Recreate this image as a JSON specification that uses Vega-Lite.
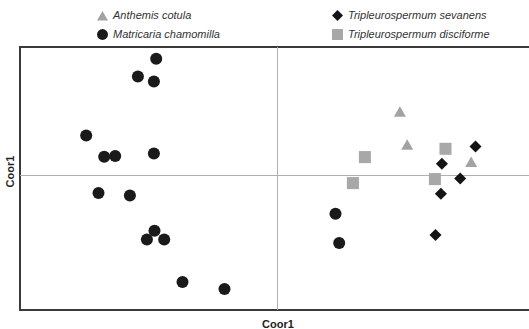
{
  "$schema": "https://vega.github.io/schema/vega-lite/v6.json",
  "autosize": "none",
  "padding": {"left": 20, "top": 47, "right": 0, "bottom": 19},
  "width": 515,
  "height": 263,
  "background": "white",
  "config": {
    "view": {"stroke": "#3a3a3a", "strokeWidth": 2},
    "font": "Liberation Sans"
  },
  "data": {
    "values": [
      {"species": "Matricaria chamomilla", "x": -121.3, "y": 116.7},
      {"species": "Matricaria chamomilla", "x": -139.6, "y": 99},
      {"species": "Matricaria chamomilla", "x": -123.6, "y": 94},
      {"species": "Matricaria chamomilla", "x": -191.3, "y": 40},
      {"species": "Matricaria chamomilla", "x": -173.3, "y": 18.7},
      {"species": "Matricaria chamomilla", "x": -162.3, "y": 19.4},
      {"species": "Matricaria chamomilla", "x": -123.6, "y": 22},
      {"species": "Matricaria chamomilla", "x": -179, "y": -17.6},
      {"species": "Matricaria chamomilla", "x": -147.6, "y": -20},
      {"species": "Matricaria chamomilla", "x": -123, "y": -55.3},
      {"species": "Matricaria chamomilla", "x": -130.6, "y": -64},
      {"species": "Matricaria chamomilla", "x": -113.3, "y": -64},
      {"species": "Matricaria chamomilla", "x": -95, "y": -106.6},
      {"species": "Matricaria chamomilla", "x": -53, "y": -113.6},
      {"species": "Matricaria chamomilla", "x": 58, "y": -38.3},
      {"species": "Matricaria chamomilla", "x": 61.7, "y": -67.6},
      {"species": "Anthemis cotula", "x": 122.4, "y": 64},
      {"species": "Anthemis cotula", "x": 129.7, "y": 31},
      {"species": "Anthemis cotula", "x": 193.7, "y": 13.7},
      {"species": "Tripleurospermum disciforme", "x": 87.4, "y": 18.4},
      {"species": "Tripleurospermum disciforme", "x": 75.4, "y": -7.6},
      {"species": "Tripleurospermum disciforme", "x": 168, "y": 26.7},
      {"species": "Tripleurospermum disciforme", "x": 157.4, "y": -3.6},
      {"species": "Tripleurospermum sevanens", "x": 198, "y": 29},
      {"species": "Tripleurospermum sevanens", "x": 164.4, "y": 11.7},
      {"species": "Tripleurospermum sevanens", "x": 182.7, "y": -3},
      {"species": "Tripleurospermum sevanens", "x": 163.4, "y": -18.3},
      {"species": "Tripleurospermum sevanens", "x": 158, "y": -59.6}
    ]
  },
  "layer": [
    {
      "mark": {"type": "rule", "color": "#b0b0b0", "strokeWidth": 1},
      "encoding": {"x": {"datum": 0, "type": "quantitative"}}
    },
    {
      "mark": {"type": "rule", "color": "#b0b0b0", "strokeWidth": 1},
      "encoding": {"y": {"datum": 0, "type": "quantitative"}}
    },
    {
      "mark": {"type": "point", "filled": true, "opacity": 1, "strokeWidth": 0, "size": 145},
      "encoding": {
        "x": {
          "field": "x", "type": "quantitative",
          "scale": {"domain": [-257.5, 257.5], "nice": false, "zero": false},
          "axis": {"title": "Coor1", "labels": false, "ticks": false, "domain": false, "grid": false,
                   "titleFontSize": 11, "titleFontWeight": "bold", "titleColor": "#222", "titleFont": "Liberation Sans",
                   "titleBaseline": "middle", "titleY": 14}
        },
        "y": {
          "field": "y", "type": "quantitative",
          "scale": {"domain": [-134.5, 128.5], "nice": false, "zero": false},
          "axis": {"title": "Coor1", "labels": false, "ticks": false, "domain": false, "grid": false,
                   "titleFontSize": 11, "titleFontWeight": "bold", "titleColor": "#222", "titleFont": "Liberation Sans",
                   "titleBaseline": "middle", "titleX": -10, "titleY": 124, "titleAngle": -90}
        },
        "shape": {
          "field": "species", "type": "nominal",
          "scale": {
            "domain": ["Anthemis cotula", "Tripleurospermum sevanens", "Matricaria chamomilla", "Tripleurospermum disciforme"],
            "range": ["triangle-up", "diamond", "circle", "square"]
          },
          "legend": {
            "title": null, "orient": "none", "legendX": 77, "legendY": -37, "columns": 2,
            "direction": "horizontal", "gridAlign": "each", "columnPadding": 112, "rowPadding": 7,
            "padding": 0, "symbolSize": 120, "symbolStrokeWidth": 0, "labelFont": "Liberation Sans",
            "labelFontStyle": "italic", "labelFontSize": 11, "labelColor": "#333", "labelOffset": 5
          }
        },
        "color": {
          "field": "species", "type": "nominal",
          "scale": {
            "domain": ["Anthemis cotula", "Tripleurospermum sevanens", "Matricaria chamomilla", "Tripleurospermum disciforme"],
            "range": ["#a3a3a3", "#141414", "#1a1a1a", "#a8a8a8"]
          }
        }
      }
    }
  ]
}
